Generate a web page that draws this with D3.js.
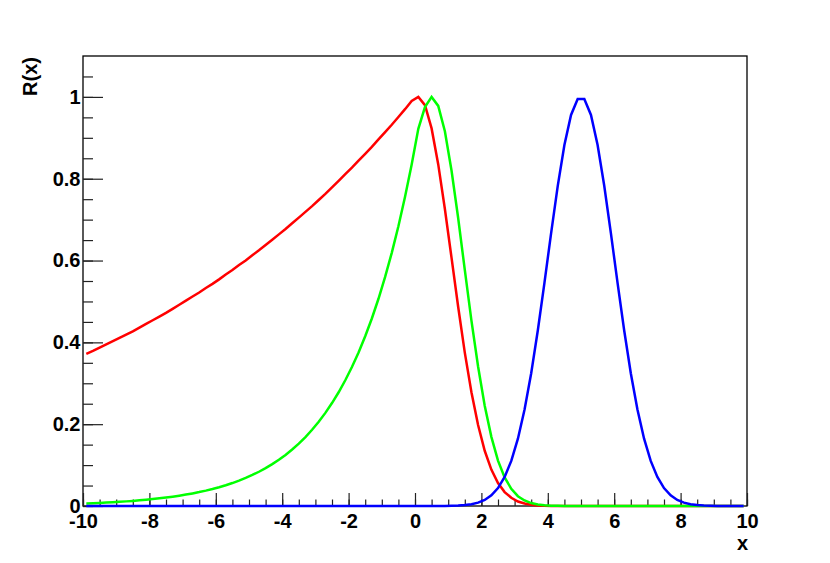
<!DOCTYPE html>
<html>
<head>
<meta charset="utf-8">
<script src="https://cdn.jsdelivr.net/npm/d3@7"></script>
<style>
  html, body { margin: 0; padding: 0; background: #fff; }
  svg text { font-family: "Liberation Sans", Arial, Helvetica, sans-serif; font-weight: bold; fill: #000; }
</style>
</head>
<body>
<div id="chart"></div>
<script>
// sample points (bin centres, 100 per curve)
var xs = [
  -9.9,-9.7,-9.5,-9.3,-9.1,-8.9,-8.7,-8.5,-8.3,-8.1,
  -7.9,-7.7,-7.5,-7.3,-7.1,-6.9,-6.7,-6.5,-6.3,-6.1,
  -5.9,-5.7,-5.5,-5.3,-5.1,-4.9,-4.7,-4.5,-4.3,-4.1,
  -3.9,-3.7,-3.5,-3.3,-3.1,-2.9,-2.7,-2.5,-2.3,-2.1,
  -1.9,-1.7,-1.5,-1.3,-1.1,-0.9,-0.7,-0.5,-0.3,-0.1,
  0.1,0.3,0.5,0.7,0.9,1.1,1.3,1.5,1.7,1.9,
  2.1,2.3,2.5,2.7,2.9,3.1,3.3,3.5,3.7,3.9,
  4.1,4.3,4.5,4.7,4.9,5.1,5.3,5.5,5.7,5.9,
  6.1,6.3,6.5,6.7,6.9,7.1,7.3,7.5,7.7,7.9,
  8.1,8.3,8.5,8.7,8.9,9.1,9.3,9.5,9.7,9.9
];

var redVals = [
  0.372,0.379,0.387,0.395,0.403,0.411,0.419,0.427,0.436,0.445,
  0.454,0.463,0.472,0.482,0.492,0.502,0.512,0.522,0.533,0.543,
  0.554,0.566,0.577,0.589,0.600,0.613,0.625,0.638,0.651,0.664,
  0.677,0.691,0.705,0.719,0.733,0.748,0.763,0.779,0.795,0.811,
  0.827,0.844,0.861,0.878,0.896,0.914,0.932,0.951,0.970,0.990,
  1.000,0.980,0.923,0.835,0.726,0.607,0.487,0.375,0.278,0.198,
  0.135,0.089,0.056,0.034,0.020,0.011,0.006,0.003,0.0015,0.0007,
  0.0003,0.0001,0,0,0,0,0,0,0,0,
  0,0,0,0,0,0,0,0,0,0,
  0,0,0,0,0,0,0,0,0,0
];

var greenVals = [
  0.0062,0.0069,0.0076,0.0084,0.0093,0.0103,0.0113,0.0125,0.0138,0.0153,
  0.0169,0.0187,0.0207,0.0228,0.0252,0.0279,0.0308,0.0340,0.0376,0.0416,
  0.0460,0.0508,0.0561,0.0620,0.0686,0.0758,0.0837,0.0926,0.1023,0.1130,
  0.1249,0.1381,0.1526,0.1686,0.1864,0.2060,0.2276,0.2516,0.2780,0.3073,
  0.3396,0.3753,0.4148,0.4584,0.5066,0.5599,0.6188,0.6839,0.7558,0.835,
  0.922,0.975,1.000,0.978,0.916,0.820,0.704,0.577,0.453,0.341,
  0.245,0.169,0.111,0.070,0.042,0.024,0.0135,0.0071,0.0036,0.0017,
  0.0008,0.0004,0.0002,0.0001,0,0,0,0,0,0,
  0,0,0,0,0,0,0,0,0,0,
  0,0,0,0,0,0,0,0,0,0
];

var blueVals = [
  0,0,0,0,0,0,0,0,0,0,
  0,0,0,0,0,0,0,0,0,0,
  0,0,0,0,0,0,0,0,0,0,
  0,0,0,0,0,0,0,0,0,0,
  0,0,0,0,0,0,0,0,0,0,
  0,0,0,0.0001,0.0002,0.0005,0.0011,0.0022,0.0043,0.0082,
  0.0149,0.0261,0.0439,0.0710,0.1103,0.1645,0.2357,0.3247,0.4296,0.5461,
  0.6670,0.7827,0.8825,0.9560,0.9950,0.9950,0.9560,0.8825,0.7827,0.6670,
  0.5461,0.4296,0.3247,0.2357,0.1645,0.1103,0.0710,0.0439,0.0261,0.0149,
  0.0082,0.0043,0.0022,0.0011,0.0005,0.0002,0.0001,0,0,0
];

var xTickValues = [-10,-8,-6,-4,-2,0,2,4,6,8,10];
var xTickLabels = ["-10","-8","-6","-4","-2","0","2","4","6","8","10"];
var yTickValues = [0,0.2,0.4,0.6,0.8,1];
var yTickLabels = ["0","0.2","0.4","0.6","0.8","1"];

var W = 830, H = 563;
var fLeft = 83, fRight = 747, fTop = 56, fBottom = 506;

var svg = d3.select("#chart").append("svg").attr("width", W).attr("height", H);
svg.append("rect").attr("width", W).attr("height", H).attr("fill", "#fff");

var x = d3.scaleLinear().domain([-10, 10]).range([fLeft, fRight]);
var y = d3.scaleLinear().domain([0, 1.1]).range([fBottom, fTop]);

// frame
svg.append("rect")
    .attr("x", fLeft).attr("y", fTop)
    .attr("width", fRight - fLeft).attr("height", fBottom - fTop)
    .attr("fill", "none").attr("stroke", "#000").attr("stroke-width", 1.3);

// x axis minor ticks
svg.append("g")
    .attr("transform", "translate(0," + fBottom + ")")
    .call(d3.axisBottom(x).ticks(40).tickSize(-6.5).tickFormat(""))
    .call(g => g.select(".domain").remove());

// x axis major ticks + labels
var xg = svg.append("g")
    .attr("transform", "translate(0," + fBottom + ")")
    .call(d3.axisBottom(x).tickValues(xTickValues).tickSize(-13).tickPadding(8)
        .tickFormat((d, i) => xTickLabels[i]))
    .call(g => g.select(".domain").remove());
xg.selectAll("text").style("font-size", "20px");

// y axis minor ticks
svg.append("g")
    .attr("transform", "translate(" + fLeft + ",0)")
    .call(d3.axisLeft(y).tickValues(y.ticks(22).filter(v => v < 1.08)).tickSize(-10).tickFormat(""))
    .call(g => g.select(".domain").remove());

// y axis major ticks + labels
var yg = svg.append("g")
    .attr("transform", "translate(" + fLeft + ",0)")
    .call(d3.axisLeft(y).tickValues(yTickValues).tickSize(-20).tickPadding(2.5)
        .tickFormat((d, i) => yTickLabels[i]))
    .call(g => g.select(".domain").remove());
yg.selectAll("text").style("font-size", "20px");

svg.selectAll(".tick line").attr("stroke", "#222").attr("stroke-width", 1.2);

// axis titles
svg.append("text")
    .attr("transform", "translate(37,57) rotate(-90)")
    .attr("text-anchor", "end")
    .style("font-size", "20px")
    .text("R(x)");

svg.append("text")
    .attr("x", 748).attr("y", 550)
    .attr("text-anchor", "end")
    .style("font-size", "20px")
    .text("x");

// curves
var line = d3.line()
    .x((d, i) => x(xs[i]))
    .y(d => y(d));

var curves = [
    { vals: redVals, color: "#ff0000" },
    { vals: greenVals, color: "#00ff00" },
    { vals: blueVals, color: "#0000ff" }
];

curves.forEach(function (c) {
    svg.append("path")
        .datum(c.vals)
        .attr("d", line)
        .attr("fill", "none")
        .attr("stroke", c.color)
        .attr("stroke-width", 2.5)
        .attr("stroke-linejoin", "miter");
});
</script>
</body>
</html>
